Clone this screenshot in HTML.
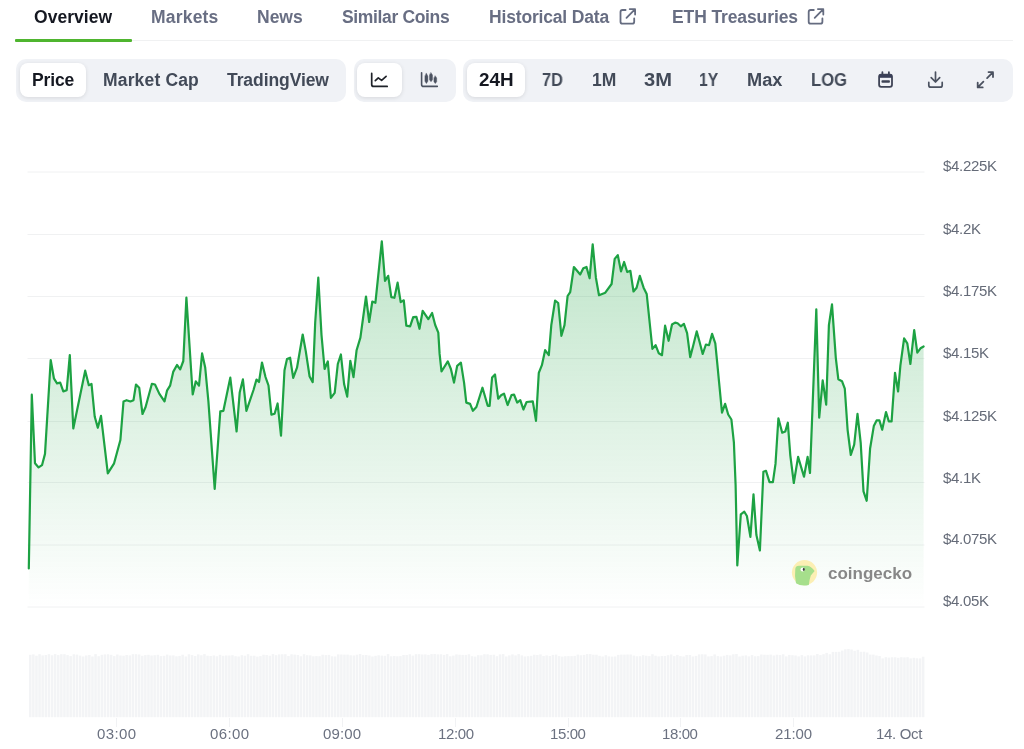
<!DOCTYPE html>
<html><head><meta charset="utf-8">
<style>
*{box-sizing:border-box;margin:0;padding:0}
html,body{width:1024px;height:749px;overflow:hidden;background:#fff}
body{position:relative;font-family:"Liberation Sans",sans-serif;font-weight:bold;color:#0d1217}
.a{position:absolute;white-space:nowrap;will-change:transform}
.tab{font-size:17.5px;line-height:20px;top:7px;color:#686e83}
.tab.on{color:#151821}
.sep{left:15px;top:40px;width:998px;height:1px;background:#f0f1f2}
.ul{left:15px;top:38.5px;width:117px;height:3px;background:#4fb52f;border-radius:1px}
.grp{background:#f0f2f6;border-radius:10px;height:43px;top:58.5px}
.pill{background:#fff;border-radius:8px;height:34px;top:63px;box-shadow:0 1px 4px rgba(0,0,0,.11)}
.tb{font-size:17.5px;line-height:20px;top:70px;color:#424a58}
.tb.on{color:#151821}
.yl{font-weight:normal;font-size:15px;line-height:16px;color:#656b78;left:943px;letter-spacing:-0.3px}
.xl{font-weight:normal;font-size:15px;line-height:16px;color:#6b7180;top:726px}
</style></head><body>
<!--CHART--><svg class="a" style="left:0;top:0" width="1024" height="749" viewBox="0 0 1024 749">
<defs><linearGradient id="g" gradientUnits="userSpaceOnUse" x1="0" y1="241" x2="0" y2="607.2">
<stop offset="0" stop-color="#16a03c" stop-opacity="0.27"/><stop offset="1" stop-color="#16a03c" stop-opacity="0"/></linearGradient></defs>
<g stroke="#f0f1f2" stroke-width="1"><line x1="27.5" x2="924.5" y1="172" y2="172"/><line x1="27.5" x2="924.5" y1="234.5" y2="234.5"/><line x1="27.5" x2="924.5" y1="296.5" y2="296.5"/><line x1="27.5" x2="924.5" y1="358.5" y2="358.5"/><line x1="27.5" x2="924.5" y1="421.5" y2="421.5"/><line x1="27.5" x2="924.5" y1="482.5" y2="482.5"/><line x1="27.5" x2="924.5" y1="545" y2="545"/><line x1="27.5" x2="924.5" y1="607" y2="607"/></g>
<g fill="#f3f4f6"><rect x="29" y="654.8" width="2.5" height="62.4"/><rect x="32.1" y="654.4" width="2.5" height="62.8"/><rect x="35.2" y="655.7" width="2.5" height="61.5"/><rect x="38.3" y="654.2" width="2.5" height="63"/><rect x="41.4" y="655.4" width="2.5" height="61.8"/><rect x="44.6" y="655" width="2.5" height="62.2"/><rect x="47.7" y="654.2" width="2.5" height="63"/><rect x="50.8" y="655.3" width="2.5" height="61.9"/><rect x="53.9" y="654.1" width="2.5" height="63.1"/><rect x="57" y="655.1" width="2.5" height="62.1"/><rect x="60.1" y="654.2" width="2.5" height="63"/><rect x="63.2" y="654.2" width="2.5" height="63"/><rect x="66.3" y="655.1" width="2.5" height="62.1"/><rect x="69.4" y="656.1" width="2.5" height="61.1"/><rect x="72.6" y="654.3" width="2.5" height="62.9"/><rect x="75.7" y="654.6" width="2.5" height="62.6"/><rect x="78.8" y="655.6" width="2.5" height="61.6"/><rect x="81.9" y="656.5" width="2.5" height="60.7"/><rect x="85" y="655.5" width="2.5" height="61.7"/><rect x="88.1" y="655" width="2.5" height="62.2"/><rect x="91.2" y="656.5" width="2.5" height="60.7"/><rect x="94.3" y="654.1" width="2.5" height="63.1"/><rect x="97.4" y="656.2" width="2.5" height="61"/><rect x="100.6" y="654.8" width="2.5" height="62.4"/><rect x="103.7" y="654.4" width="2.5" height="62.8"/><rect x="106.8" y="654.3" width="2.5" height="62.9"/><rect x="109.9" y="654.8" width="2.5" height="62.4"/><rect x="113" y="656.1" width="2.5" height="61.1"/><rect x="116.1" y="654.5" width="2.5" height="62.7"/><rect x="119.2" y="655.5" width="2.5" height="61.7"/><rect x="122.3" y="655.7" width="2.5" height="61.5"/><rect x="125.4" y="655" width="2.5" height="62.2"/><rect x="128.6" y="655.4" width="2.5" height="61.8"/><rect x="131.7" y="654.2" width="2.5" height="63"/><rect x="134.8" y="654.2" width="2.5" height="63"/><rect x="137.9" y="654.5" width="2.5" height="62.7"/><rect x="141" y="655.8" width="2.5" height="61.4"/><rect x="144.1" y="655.1" width="2.5" height="62.1"/><rect x="147.2" y="654.8" width="2.5" height="62.4"/><rect x="150.3" y="655.5" width="2.5" height="61.7"/><rect x="153.4" y="655.2" width="2.5" height="62"/><rect x="156.6" y="654.8" width="2.5" height="62.4"/><rect x="159.7" y="656.1" width="2.5" height="61.1"/><rect x="162.8" y="655.8" width="2.5" height="61.4"/><rect x="165.9" y="654.6" width="2.5" height="62.6"/><rect x="169" y="655.5" width="2.5" height="61.7"/><rect x="172.1" y="655.4" width="2.5" height="61.8"/><rect x="175.2" y="656.3" width="2.5" height="60.9"/><rect x="178.3" y="655.9" width="2.5" height="61.3"/><rect x="181.4" y="654.7" width="2.5" height="62.5"/><rect x="184.6" y="656.5" width="2.5" height="60.7"/><rect x="187.7" y="654.3" width="2.5" height="62.9"/><rect x="190.8" y="655.1" width="2.5" height="62.1"/><rect x="193.9" y="656" width="2.5" height="61.2"/><rect x="197" y="654.4" width="2.5" height="62.8"/><rect x="200.1" y="655.3" width="2.5" height="61.9"/><rect x="203.2" y="654.1" width="2.5" height="63.1"/><rect x="206.3" y="655.7" width="2.5" height="61.5"/><rect x="209.4" y="656" width="2.5" height="61.2"/><rect x="212.6" y="655.5" width="2.5" height="61.7"/><rect x="215.7" y="656.3" width="2.5" height="60.9"/><rect x="218.8" y="654.8" width="2.5" height="62.4"/><rect x="221.9" y="655.8" width="2.5" height="61.4"/><rect x="225" y="655.5" width="2.5" height="61.7"/><rect x="228.1" y="655.5" width="2.5" height="61.7"/><rect x="231.2" y="655.2" width="2.5" height="62"/><rect x="234.3" y="656.2" width="2.5" height="61"/><rect x="237.4" y="656.5" width="2.5" height="60.7"/><rect x="240.6" y="655.2" width="2.5" height="62"/><rect x="243.7" y="655.7" width="2.5" height="61.5"/><rect x="246.8" y="654.2" width="2.5" height="63"/><rect x="249.9" y="655.8" width="2.5" height="61.4"/><rect x="253" y="655.7" width="2.5" height="61.5"/><rect x="256.1" y="656.6" width="2.5" height="60.6"/><rect x="259.2" y="656.1" width="2.5" height="61.1"/><rect x="262.3" y="654.7" width="2.5" height="62.5"/><rect x="265.4" y="655" width="2.5" height="62.2"/><rect x="268.6" y="655.7" width="2.5" height="61.5"/><rect x="271.7" y="654.1" width="2.5" height="63.1"/><rect x="274.8" y="655.2" width="2.5" height="62"/><rect x="277.9" y="654.4" width="2.5" height="62.8"/><rect x="281" y="654.3" width="2.5" height="62.9"/><rect x="284.1" y="654.2" width="2.5" height="63"/><rect x="287.2" y="656" width="2.5" height="61.2"/><rect x="290.3" y="654.3" width="2.5" height="62.9"/><rect x="293.4" y="654.6" width="2.5" height="62.6"/><rect x="296.6" y="655" width="2.5" height="62.2"/><rect x="299.7" y="656.3" width="2.5" height="60.9"/><rect x="302.8" y="654.2" width="2.5" height="63"/><rect x="305.9" y="655.2" width="2.5" height="62"/><rect x="309" y="655.4" width="2.5" height="61.8"/><rect x="312.1" y="656.3" width="2.5" height="60.9"/><rect x="315.2" y="656.1" width="2.5" height="61.1"/><rect x="318.3" y="656.2" width="2.5" height="61"/><rect x="321.4" y="654.7" width="2.5" height="62.5"/><rect x="324.6" y="655.1" width="2.5" height="62.1"/><rect x="327.7" y="654.9" width="2.5" height="62.3"/><rect x="330.8" y="656.3" width="2.5" height="60.9"/><rect x="333.9" y="656.5" width="2.5" height="60.7"/><rect x="337" y="654.4" width="2.5" height="62.8"/><rect x="340.1" y="654.5" width="2.5" height="62.7"/><rect x="343.2" y="654.6" width="2.5" height="62.6"/><rect x="346.3" y="654.6" width="2.5" height="62.6"/><rect x="349.4" y="655.3" width="2.5" height="61.9"/><rect x="352.6" y="655.5" width="2.5" height="61.7"/><rect x="355.7" y="654.7" width="2.5" height="62.5"/><rect x="358.8" y="654" width="2.5" height="63.2"/><rect x="361.9" y="655.1" width="2.5" height="62.1"/><rect x="365" y="655" width="2.5" height="62.2"/><rect x="368.1" y="655.5" width="2.5" height="61.7"/><rect x="371.2" y="656.5" width="2.5" height="60.7"/><rect x="374.3" y="655.8" width="2.5" height="61.4"/><rect x="377.4" y="655.3" width="2.5" height="61.9"/><rect x="380.6" y="655.6" width="2.5" height="61.6"/><rect x="383.7" y="655.8" width="2.5" height="61.4"/><rect x="386.8" y="654.1" width="2.5" height="63.1"/><rect x="389.9" y="656.3" width="2.5" height="60.9"/><rect x="393" y="656" width="2.5" height="61.2"/><rect x="396.1" y="656.3" width="2.5" height="60.9"/><rect x="399.2" y="656.1" width="2.5" height="61.1"/><rect x="402.3" y="655" width="2.5" height="62.2"/><rect x="405.4" y="655" width="2.5" height="62.2"/><rect x="408.6" y="654.3" width="2.5" height="62.9"/><rect x="411.7" y="655.6" width="2.5" height="61.6"/><rect x="414.8" y="654.2" width="2.5" height="63"/><rect x="417.9" y="654.2" width="2.5" height="63"/><rect x="421" y="654.5" width="2.5" height="62.7"/><rect x="424.1" y="654.4" width="2.5" height="62.8"/><rect x="427.2" y="654.9" width="2.5" height="62.3"/><rect x="430.3" y="654.1" width="2.5" height="63.1"/><rect x="433.4" y="654" width="2.5" height="63.2"/><rect x="436.6" y="654.4" width="2.5" height="62.8"/><rect x="439.7" y="654.3" width="2.5" height="62.9"/><rect x="442.8" y="654.9" width="2.5" height="62.3"/><rect x="445.9" y="654.1" width="2.5" height="63.1"/><rect x="449" y="656.3" width="2.5" height="60.9"/><rect x="452.1" y="655.6" width="2.5" height="61.6"/><rect x="455.2" y="654.4" width="2.5" height="62.8"/><rect x="458.3" y="654.7" width="2.5" height="62.5"/><rect x="461.4" y="654.9" width="2.5" height="62.3"/><rect x="464.6" y="654.9" width="2.5" height="62.3"/><rect x="467.7" y="654.3" width="2.5" height="62.9"/><rect x="470.8" y="656.2" width="2.5" height="61"/><rect x="473.9" y="656.6" width="2.5" height="60.6"/><rect x="477" y="655.2" width="2.5" height="62"/><rect x="480.1" y="655.3" width="2.5" height="61.9"/><rect x="483.2" y="654.2" width="2.5" height="63"/><rect x="486.3" y="654.3" width="2.5" height="62.9"/><rect x="489.4" y="654.9" width="2.5" height="62.3"/><rect x="492.6" y="654.7" width="2.5" height="62.5"/><rect x="495.7" y="656.2" width="2.5" height="61"/><rect x="498.8" y="654.4" width="2.5" height="62.8"/><rect x="501.9" y="654.1" width="2.5" height="63.1"/><rect x="505" y="656.5" width="2.5" height="60.7"/><rect x="508.1" y="655.4" width="2.5" height="61.8"/><rect x="511.2" y="654.4" width="2.5" height="62.8"/><rect x="514.3" y="655.4" width="2.5" height="61.8"/><rect x="517.4" y="654.1" width="2.5" height="63.1"/><rect x="520.6" y="655.4" width="2.5" height="61.8"/><rect x="523.7" y="656.5" width="2.5" height="60.7"/><rect x="526.8" y="656.2" width="2.5" height="61"/><rect x="529.9" y="655.8" width="2.5" height="61.4"/><rect x="533" y="654.7" width="2.5" height="62.5"/><rect x="536.1" y="655" width="2.5" height="62.2"/><rect x="539.2" y="654.4" width="2.5" height="62.8"/><rect x="542.3" y="656" width="2.5" height="61.2"/><rect x="545.4" y="655.4" width="2.5" height="61.8"/><rect x="548.6" y="656" width="2.5" height="61.2"/><rect x="551.7" y="654.9" width="2.5" height="62.3"/><rect x="554.8" y="654.6" width="2.5" height="62.6"/><rect x="557.9" y="656.1" width="2.5" height="61.1"/><rect x="561" y="656.6" width="2.5" height="60.6"/><rect x="564.1" y="656.2" width="2.5" height="61"/><rect x="567.2" y="656.1" width="2.5" height="61.1"/><rect x="570.3" y="656.1" width="2.5" height="61.1"/><rect x="573.4" y="655.9" width="2.5" height="61.3"/><rect x="576.6" y="654.6" width="2.5" height="62.6"/><rect x="579.7" y="655.3" width="2.5" height="61.9"/><rect x="582.8" y="654.9" width="2.5" height="62.3"/><rect x="585.9" y="654.1" width="2.5" height="63.1"/><rect x="589" y="654.1" width="2.5" height="63.1"/><rect x="592.1" y="654.7" width="2.5" height="62.5"/><rect x="595.2" y="654.7" width="2.5" height="62.5"/><rect x="598.3" y="655.8" width="2.5" height="61.4"/><rect x="601.4" y="656.5" width="2.5" height="60.7"/><rect x="604.6" y="655.2" width="2.5" height="62"/><rect x="607.7" y="656.4" width="2.5" height="60.8"/><rect x="610.8" y="656.6" width="2.5" height="60.6"/><rect x="613.9" y="656.5" width="2.5" height="60.7"/><rect x="617" y="654.9" width="2.5" height="62.3"/><rect x="620.1" y="654.6" width="2.5" height="62.6"/><rect x="623.2" y="654.6" width="2.5" height="62.6"/><rect x="626.3" y="654.5" width="2.5" height="62.7"/><rect x="629.4" y="654.5" width="2.5" height="62.7"/><rect x="632.6" y="655.6" width="2.5" height="61.6"/><rect x="635.7" y="656.3" width="2.5" height="60.9"/><rect x="638.8" y="656.2" width="2.5" height="61"/><rect x="641.9" y="655.2" width="2.5" height="62"/><rect x="645" y="655.7" width="2.5" height="61.5"/><rect x="648.1" y="656.1" width="2.5" height="61.1"/><rect x="651.2" y="654.2" width="2.5" height="63"/><rect x="654.3" y="655.7" width="2.5" height="61.5"/><rect x="657.4" y="656.4" width="2.5" height="60.8"/><rect x="660.6" y="656" width="2.5" height="61.2"/><rect x="663.7" y="656" width="2.5" height="61.2"/><rect x="666.8" y="655.2" width="2.5" height="62"/><rect x="669.9" y="654.5" width="2.5" height="62.7"/><rect x="673" y="656.1" width="2.5" height="61.1"/><rect x="676.1" y="654.9" width="2.5" height="62.3"/><rect x="679.2" y="656.1" width="2.5" height="61.1"/><rect x="682.3" y="656.5" width="2.5" height="60.7"/><rect x="685.4" y="655" width="2.5" height="62.2"/><rect x="688.6" y="655" width="2.5" height="62.2"/><rect x="691.7" y="656.5" width="2.5" height="60.7"/><rect x="694.8" y="655.9" width="2.5" height="61.3"/><rect x="697.9" y="654.4" width="2.5" height="62.8"/><rect x="701" y="654.3" width="2.5" height="62.9"/><rect x="704.1" y="654.4" width="2.5" height="62.8"/><rect x="707.2" y="656.4" width="2.5" height="60.8"/><rect x="710.3" y="656.1" width="2.5" height="61.1"/><rect x="713.4" y="654.4" width="2.5" height="62.8"/><rect x="716.6" y="656.1" width="2.5" height="61.1"/><rect x="719.7" y="656.5" width="2.5" height="60.7"/><rect x="722.8" y="655.7" width="2.5" height="61.5"/><rect x="725.9" y="654.9" width="2.5" height="62.3"/><rect x="729" y="655.4" width="2.5" height="61.8"/><rect x="732.1" y="654.3" width="2.5" height="62.9"/><rect x="735.2" y="654" width="2.5" height="63.2"/><rect x="738.3" y="656.5" width="2.5" height="60.7"/><rect x="741.4" y="655.7" width="2.5" height="61.5"/><rect x="744.6" y="655.4" width="2.5" height="61.8"/><rect x="747.7" y="656.4" width="2.5" height="60.8"/><rect x="750.8" y="655.1" width="2.5" height="62.1"/><rect x="753.9" y="656.3" width="2.5" height="60.9"/><rect x="757" y="656.1" width="2.5" height="61.1"/><rect x="760.1" y="654.5" width="2.5" height="62.7"/><rect x="763.2" y="654.7" width="2.5" height="62.5"/><rect x="766.3" y="654.8" width="2.5" height="62.4"/><rect x="769.4" y="654.6" width="2.5" height="62.6"/><rect x="772.6" y="655.5" width="2.5" height="61.7"/><rect x="775.7" y="654.7" width="2.5" height="62.5"/><rect x="778.8" y="655.1" width="2.5" height="62.1"/><rect x="781.9" y="654.3" width="2.5" height="62.9"/><rect x="785" y="656.4" width="2.5" height="60.8"/><rect x="788.1" y="654.9" width="2.5" height="62.3"/><rect x="791.2" y="655.2" width="2.5" height="62"/><rect x="794.3" y="655.5" width="2.5" height="61.7"/><rect x="797.4" y="656.4" width="2.5" height="60.8"/><rect x="800.6" y="655.1" width="2.5" height="62.1"/><rect x="803.7" y="656.4" width="2.5" height="60.8"/><rect x="806.8" y="655.3" width="2.5" height="61.9"/><rect x="809.9" y="655.4" width="2.5" height="61.8"/><rect x="813" y="655.4" width="2.5" height="61.8"/><rect x="816.1" y="654" width="2.5" height="63.2"/><rect x="819.2" y="655.1" width="2.5" height="62.1"/><rect x="822.3" y="654.2" width="2.5" height="63"/><rect x="825.4" y="652.9" width="2.5" height="64.3"/><rect x="828.6" y="654.3" width="2.5" height="62.9"/><rect x="831.7" y="651.9" width="2.5" height="65.3"/><rect x="834.8" y="651.9" width="2.5" height="65.3"/><rect x="837.9" y="651.8" width="2.5" height="65.4"/><rect x="841" y="650.6" width="2.5" height="66.6"/><rect x="844.1" y="649.3" width="2.5" height="67.9"/><rect x="847.2" y="649" width="2.5" height="68.2"/><rect x="850.3" y="649.5" width="2.5" height="67.7"/><rect x="853.4" y="650.8" width="2.5" height="66.4"/><rect x="856.6" y="649.8" width="2.5" height="67.4"/><rect x="859.7" y="651.8" width="2.5" height="65.4"/><rect x="862.8" y="651.7" width="2.5" height="65.5"/><rect x="865.9" y="652.5" width="2.5" height="64.7"/><rect x="869" y="654.6" width="2.5" height="62.6"/><rect x="872.1" y="654.6" width="2.5" height="62.6"/><rect x="875.2" y="655.5" width="2.5" height="61.7"/><rect x="878.3" y="656" width="2.5" height="61.2"/><rect x="881.4" y="658.4" width="2.5" height="58.8"/><rect x="884.6" y="657.2" width="2.5" height="60"/><rect x="887.7" y="657.6" width="2.5" height="59.6"/><rect x="890.8" y="657.3" width="2.5" height="59.9"/><rect x="893.9" y="657.3" width="2.5" height="59.9"/><rect x="897" y="657.8" width="2.5" height="59.4"/><rect x="900.1" y="657.2" width="2.5" height="60"/><rect x="903.2" y="657.4" width="2.5" height="59.8"/><rect x="906.3" y="657.2" width="2.5" height="60"/><rect x="909.4" y="658.4" width="2.5" height="58.8"/><rect x="912.6" y="657.8" width="2.5" height="59.4"/><rect x="915.7" y="658.3" width="2.5" height="58.9"/><rect x="918.8" y="658.4" width="2.5" height="58.8"/><rect x="921.9" y="656.7" width="2.5" height="60.5"/></g>
<g stroke="#f1f2f4" stroke-width="1"><line x1="116.5" x2="116.5" y1="718" y2="727"/><line x1="229.5" x2="229.5" y1="718" y2="727"/><line x1="342.5" x2="342.5" y1="718" y2="727"/><line x1="455.5" x2="455.5" y1="718" y2="727"/><line x1="568.5" x2="568.5" y1="718" y2="727"/><line x1="680.5" x2="680.5" y1="718" y2="727"/><line x1="793.5" x2="793.5" y1="718" y2="727"/></g>
<path d="M28.8 568.5 L31.8 394.7 L35 463.3 L38.6 467.4 L42 465.2 L45 453.9 L50.7 360 L53.9 378.3 L57 383.3 L60.2 382.7 L63.3 391.4 L66.7 390.2 L69.8 355 L73.3 428.5 L85.2 370.7 L88.8 385.2 L91.5 383.9 L94.7 416.5 L97.8 427.8 L101 415.9 L107.8 473.3 L114.1 463.3 L120.4 440 L123.5 401.5 L126.6 400.2 L130.4 401.5 L133.5 400.2 L136 384.5 L139.2 387.7 L142.5 414 L145.6 407 L151.9 383.8 L155 384.5 L159.4 393.9 L164.5 401.4 L167 390.7 L170.1 385.7 L173.2 371.9 L177 365 L180.2 369.4 L183.3 361 L186.4 297.6 L192.7 394.5 L195.8 381.3 L199 385.7 L202.1 353.4 L205.2 367.5 L208.4 401.4 L214.7 489 L220.3 411.4 L223.4 410.8 L230.3 377.6 L236.6 431.5 L239.7 392.6 L242.9 379.4 L246.4 410.8 L253.5 390 L256.5 379.5 L259 382 L262 362.5 L265.5 377 L268.5 385.5 L271.4 414.7 L274.6 413.7 L277.6 403.5 L281 435.6 L284.5 370.2 L287 359 L290.1 357.7 L293.2 377.8 L297 367.7 L302.7 334.5 L305.8 351.4 L309.6 376.5 L312.7 382.1 L315.2 322.5 L318.3 277.7 L321.5 335 L324.6 369 L327.8 361.4 L330.9 397.8 L334.7 392.8 L337.8 364 L340.9 354.5 L344.1 384 L347.2 396.6 L350.3 360.8 L353.5 377.1 L356.6 350.2 L360.4 337.6 L366 296.5 L369.2 322 L372.3 301.5 L375.4 302.8 L381.8 241.3 L385 280.8 L388.2 275.8 L391.3 297.1 L394.4 297.8 L397.6 282.7 L400.7 302.1 L403.8 300.3 L406.3 325.7 L410.1 326.3 L413.2 317.2 L416.4 316.8 L419.5 328.8 L422.7 310.8 L428.3 319.2 L432.1 313 L435.2 325 L438.3 332.6 L439.6 353.9 L441.5 371.5 L447.8 361.4 L450.9 369 L454 382.6 L457.2 365.8 L460.9 362.7 L464.1 382.8 L466.3 402.6 L470.1 403.9 L472.9 410.8 L476.4 407 L482.5 387.7 L487.7 405.8 L489.6 405.8 L492.1 377.5 L495 374.5 L498.2 398.7 L501.1 395.3 L504 393.6 L507.6 405 L511.5 395.1 L514 394.5 L517.2 402.6 L520.3 400.1 L523.4 409.5 L526.6 402 L532.8 401.4 L536 420.8 L538.8 372.8 L541.9 365.2 L545.1 350.2 L548.8 355.2 L551.3 325.1 L555.1 300.5 L558.2 303 L561.4 335.8 L564.5 325.1 L567.6 296 L570.2 292.1 L573.9 267 L580.2 274.5 L583.3 268.3 L586.5 267 L589.6 278.3 L592.7 244.4 L595.9 277.7 L599 295.2 L605.3 292.7 L611.6 284 L614.7 258.9 L617.8 255.1 L621 271.4 L624.1 262 L627.2 272 L630.4 270.8 L633.5 291.5 L636.6 287.7 L639.8 275.8 L643.6 287.7 L646.7 294 L652.4 348.9 L655.6 345.2 L658.8 353.3 L662 355.2 L665.1 325.7 L668.6 340.8 L672 324.5 L675.1 322.6 L677.6 323.2 L680.8 326.3 L683.9 323.8 L687.1 333.2 L690.2 357.1 L693.3 345.2 L696.7 331.4 L699.6 342 L702.7 354 L705.9 344.5 L709 345.2 L712.1 333.9 L715.3 343.3 L717.2 362.7 L722 412.6 L725.1 403.8 L728.2 414.5 L731.4 419.5 L733.9 442.7 L735.6 484.7 L737.3 565.5 L740.8 514.3 L744.3 511.7 L746.9 516 L750.4 536.8 L753.5 494.3 L756.4 535.1 L759.9 550.4 L763.4 471.7 L766 470.8 L769.5 482.1 L772.9 482.1 L775.5 463.9 L778.4 418.3 L782.2 432.7 L785.3 431.4 L787.8 422.7 L790.3 455.3 L793.8 483 L798.1 456.9 L804 476.7 L807.6 456.9 L810 473 L816.3 309.4 L819.2 417.6 L822.7 380.3 L826.2 404.6 L828.9 325.1 L832 304.4 L835.8 357.8 L838.3 379.2 L842 381.2 L844.8 388.7 L847.6 429.8 L850.8 455 L854.2 444.7 L857.5 413.9 L860.7 442.9 L863.5 491.4 L866.7 500.8 L870.1 448.5 L873.8 426.1 L876.6 420.4 L879.4 420.4 L882.2 429.8 L886 412 L888.8 421.4 L891.6 421.4 L895 372.8 L898.1 391.5 L900.4 365.3 L904.1 338.3 L907.3 343.3 L910.4 364 L914.2 330.2 L917.3 352.7 L920.5 348.3 L923.6 346.5 L923.6 607.2 L28.8 607.2 Z" fill="url(#g)"/>
<path d="M28.8 568.5 L31.8 394.7 L35 463.3 L38.6 467.4 L42 465.2 L45 453.9 L50.7 360 L53.9 378.3 L57 383.3 L60.2 382.7 L63.3 391.4 L66.7 390.2 L69.8 355 L73.3 428.5 L85.2 370.7 L88.8 385.2 L91.5 383.9 L94.7 416.5 L97.8 427.8 L101 415.9 L107.8 473.3 L114.1 463.3 L120.4 440 L123.5 401.5 L126.6 400.2 L130.4 401.5 L133.5 400.2 L136 384.5 L139.2 387.7 L142.5 414 L145.6 407 L151.9 383.8 L155 384.5 L159.4 393.9 L164.5 401.4 L167 390.7 L170.1 385.7 L173.2 371.9 L177 365 L180.2 369.4 L183.3 361 L186.4 297.6 L192.7 394.5 L195.8 381.3 L199 385.7 L202.1 353.4 L205.2 367.5 L208.4 401.4 L214.7 489 L220.3 411.4 L223.4 410.8 L230.3 377.6 L236.6 431.5 L239.7 392.6 L242.9 379.4 L246.4 410.8 L253.5 390 L256.5 379.5 L259 382 L262 362.5 L265.5 377 L268.5 385.5 L271.4 414.7 L274.6 413.7 L277.6 403.5 L281 435.6 L284.5 370.2 L287 359 L290.1 357.7 L293.2 377.8 L297 367.7 L302.7 334.5 L305.8 351.4 L309.6 376.5 L312.7 382.1 L315.2 322.5 L318.3 277.7 L321.5 335 L324.6 369 L327.8 361.4 L330.9 397.8 L334.7 392.8 L337.8 364 L340.9 354.5 L344.1 384 L347.2 396.6 L350.3 360.8 L353.5 377.1 L356.6 350.2 L360.4 337.6 L366 296.5 L369.2 322 L372.3 301.5 L375.4 302.8 L381.8 241.3 L385 280.8 L388.2 275.8 L391.3 297.1 L394.4 297.8 L397.6 282.7 L400.7 302.1 L403.8 300.3 L406.3 325.7 L410.1 326.3 L413.2 317.2 L416.4 316.8 L419.5 328.8 L422.7 310.8 L428.3 319.2 L432.1 313 L435.2 325 L438.3 332.6 L439.6 353.9 L441.5 371.5 L447.8 361.4 L450.9 369 L454 382.6 L457.2 365.8 L460.9 362.7 L464.1 382.8 L466.3 402.6 L470.1 403.9 L472.9 410.8 L476.4 407 L482.5 387.7 L487.7 405.8 L489.6 405.8 L492.1 377.5 L495 374.5 L498.2 398.7 L501.1 395.3 L504 393.6 L507.6 405 L511.5 395.1 L514 394.5 L517.2 402.6 L520.3 400.1 L523.4 409.5 L526.6 402 L532.8 401.4 L536 420.8 L538.8 372.8 L541.9 365.2 L545.1 350.2 L548.8 355.2 L551.3 325.1 L555.1 300.5 L558.2 303 L561.4 335.8 L564.5 325.1 L567.6 296 L570.2 292.1 L573.9 267 L580.2 274.5 L583.3 268.3 L586.5 267 L589.6 278.3 L592.7 244.4 L595.9 277.7 L599 295.2 L605.3 292.7 L611.6 284 L614.7 258.9 L617.8 255.1 L621 271.4 L624.1 262 L627.2 272 L630.4 270.8 L633.5 291.5 L636.6 287.7 L639.8 275.8 L643.6 287.7 L646.7 294 L652.4 348.9 L655.6 345.2 L658.8 353.3 L662 355.2 L665.1 325.7 L668.6 340.8 L672 324.5 L675.1 322.6 L677.6 323.2 L680.8 326.3 L683.9 323.8 L687.1 333.2 L690.2 357.1 L693.3 345.2 L696.7 331.4 L699.6 342 L702.7 354 L705.9 344.5 L709 345.2 L712.1 333.9 L715.3 343.3 L717.2 362.7 L722 412.6 L725.1 403.8 L728.2 414.5 L731.4 419.5 L733.9 442.7 L735.6 484.7 L737.3 565.5 L740.8 514.3 L744.3 511.7 L746.9 516 L750.4 536.8 L753.5 494.3 L756.4 535.1 L759.9 550.4 L763.4 471.7 L766 470.8 L769.5 482.1 L772.9 482.1 L775.5 463.9 L778.4 418.3 L782.2 432.7 L785.3 431.4 L787.8 422.7 L790.3 455.3 L793.8 483 L798.1 456.9 L804 476.7 L807.6 456.9 L810 473 L816.3 309.4 L819.2 417.6 L822.7 380.3 L826.2 404.6 L828.9 325.1 L832 304.4 L835.8 357.8 L838.3 379.2 L842 381.2 L844.8 388.7 L847.6 429.8 L850.8 455 L854.2 444.7 L857.5 413.9 L860.7 442.9 L863.5 491.4 L866.7 500.8 L870.1 448.5 L873.8 426.1 L876.6 420.4 L879.4 420.4 L882.2 429.8 L886 412 L888.8 421.4 L891.6 421.4 L895 372.8 L898.1 391.5 L900.4 365.3 L904.1 338.3 L907.3 343.3 L910.4 364 L914.2 330.2 L917.3 352.7 L920.5 348.3 L923.6 346.5" fill="none" stroke="#1da243" stroke-width="2.2" stroke-linejoin="round" stroke-linecap="round"/>
</svg><!--/CHART-->
<!-- tabs -->
<div class="a tab on" style="left:33.80px;letter-spacing:0.03px">Overview</div>
<div class="a tab" style="left:150.80px;letter-spacing:0.20px">Markets</div>
<div class="a tab" style="left:257.00px;letter-spacing:0.00px">News</div>
<div class="a tab" style="left:342.00px;letter-spacing:-0.35px">Similar Coins</div>
<div class="a tab" style="left:488.60px;letter-spacing:-0.17px">Historical Data</div>
<div class="a tab" style="left:672.00px;letter-spacing:-0.11px">ETH Treasuries</div>
<div class="a sep"></div>
<div class="a ul"></div>

<!-- toolbar -->
<div class="a grp" style="left:16px;width:330px"></div>
<div class="a grp" style="left:354px;width:102px"></div>
<div class="a grp" style="left:463px;width:550px"></div>
<div class="a pill" style="left:20px;width:66px"></div>
<div class="a pill" style="left:357px;width:45px"></div>
<div class="a pill" style="left:467px;width:58px"></div>
<div class="a tb on" style="left:32.00px;letter-spacing:-0.13px">Price</div>
<div class="a tb" style="left:102.50px;letter-spacing:0.16px">Market Cap</div>
<div class="a tb" style="left:227.00px;letter-spacing:-0.08px">TradingView</div>
<div class="a tb on" style="left:479.00px;transform:scaleX(1.077);transform-origin:0 0">24H</div>
<div class="a tb" style="left:541.84px;transform:scaleX(0.934);transform-origin:0 0">7D</div>
<div class="a tb" style="left:592.00px;letter-spacing:0.00px">1M</div>
<div class="a tb" style="left:643.70px;transform:scaleX(1.148);transform-origin:0 0">3M</div>
<div class="a tb" style="left:699.24px;transform:scaleX(0.895);transform-origin:0 0">1Y</div>
<div class="a tb" style="left:746.74px;transform:scaleX(1.039);transform-origin:0 0">Max</div>
<div class="a tb" style="left:811.05px;transform:scaleX(0.950);transform-origin:0 0">LOG</div>

<!-- y labels -->
<div class="a yl" style="top:158px">$4.225K</div>
<div class="a yl" style="top:221px">$4.2K</div>
<div class="a yl" style="top:283px">$4.175K</div>
<div class="a yl" style="top:345px">$4.15K</div>
<div class="a yl" style="top:408px">$4.125K</div>
<div class="a yl" style="top:470px">$4.1K</div>
<div class="a yl" style="top:531px">$4.075K</div>
<div class="a yl" style="top:593px">$4.05K</div>

<!-- x labels -->
<div class="a xl" style="left:97.00px;letter-spacing:0.37px">03:00</div>
<div class="a xl" style="left:210.00px;letter-spacing:0.41px">06:00</div>
<div class="a xl" style="left:323.00px;letter-spacing:0.12px">09:00</div>
<div class="a xl" style="left:437.50px;letter-spacing:-0.37px">12:00</div>
<div class="a xl" style="left:550.20px;letter-spacing:-0.40px">15:00</div>
<div class="a xl" style="left:661.80px;letter-spacing:-0.40px">18:00</div>
<div class="a xl" style="left:775.20px;letter-spacing:-0.10px">21:00</div>
<div class="a xl" style="left:875.80px;letter-spacing:-0.34px">14. Oct</div>
<!-- icons -->
<svg class="a" style="left:0;top:0" width="1024" height="749" viewBox="0 0 1024 749" fill="none" stroke-linecap="round" stroke-linejoin="round">
<!-- external links -->
<g stroke="#656c80" stroke-width="1.8">
<path d="M625.6 10 H622.5 Q620.5 10 620.5 12 V21.7 Q620.5 23.7 622.5 23.7 H632.2 Q634.2 23.7 634.2 21.7 V18.4"/>
<path d="M629.7 9.1 H635.1 V14.5 M635.1 9.1 L626.5 17.9"/>
<path d="M813.8 10 H810.7 Q808.7 10 808.7 12 V21.7 Q808.7 23.7 810.7 23.7 H820.4 Q822.4 23.7 822.4 21.7 V18.4"/>
<path d="M817.9 9.1 H823.3 V14.5 M823.3 9.1 L814.7 17.9"/>
</g>
<!-- line chart icon -->
<g stroke="#1f2229" stroke-width="1.7">
<path d="M371.7 73.4 V84.4 Q371.7 86.4 373.7 86.4 H387.2"/>
<path d="M375.3 80.6 L378.3 77.8 L381.6 80.4 L386.1 76.4"/>
</g>
<!-- candle icon -->
<g stroke="#4b5260" stroke-width="1.6">
<path d="M421.6 72.8 V84.4 Q421.6 86.4 423.6 86.4 H437.3"/>
</g>
<path d="M426.4 73.3 L427.9 76.2 L427.9 81.2 L426.4 83.6 L424.9 81.2 L424.9 76.2 Z M431 72.7 L432.5 75 L432.5 79.8 L431 81.8 L429.5 79.8 L429.5 75 Z M435.3 75.9 L436.7 78 L436.7 81.8 L435.3 83.6 L433.90000000000003 81.8 L433.90000000000003 78 Z" fill="#4b5260" stroke="#4b5260" stroke-width="0.4"/>
<!-- calendar -->
<g stroke="#3f4456" stroke-width="1.8">
<rect x="879.1" y="74.6" width="12.9" height="12.2" rx="2"/>
<path d="M882.4 72.2 V74.6 M888.9 72.2 V74.6"/>
</g>
<rect x="879.1" y="74.6" width="12.9" height="3.2" fill="#3a3f58"/>
<rect x="881.5" y="80.3" width="8.4" height="2.4" rx="0.8" fill="#3f4456"/>
<!-- download -->
<g stroke="#4b5260" stroke-width="1.7">
<path d="M935.5 72 V82 M931.2 77.6 L935.5 82 L939.7 77.6"/>
<path d="M928.8 82.4 V85.2 Q928.8 87.2 930.8 87.2 H940.2 Q942.2 87.2 942.2 85.2 V82.4"/>
</g>
<!-- expand -->
<g stroke="#4b5260" stroke-width="1.8">
<path d="M988.5 72.1 H993 V77.1 M993 72.1 L987.1 78.1"/>
<path d="M977.7 82.7 V87.4 H982.7 M977.7 87.4 L983.4 81.6"/>
</g>
<!-- coingecko logo -->
<circle cx="804.5" cy="572.6" r="12.6" fill="#fcefb4"/>
<path d="M795.3 569 Q795.6 565.8 799 565.8 L807.5 565.8 Q811.5 566.5 814.6 571 L810.8 575.5 Q809.2 580.5 808.8 585 Q801 586.8 796 583.2 Q794.4 576.5 795.3 569 Z" fill="#a6df8c"/>
<circle cx="802.6" cy="569.5" r="2.1" fill="#fff"/>
<ellipse cx="803.8" cy="569.5" rx="1" ry="1.4" fill="#3a3a3a"/>
</svg>
<div class="a" style="left:828px;top:564px;font-size:17px;line-height:20px;color:#878787">coingecko</div>
</body></html>
